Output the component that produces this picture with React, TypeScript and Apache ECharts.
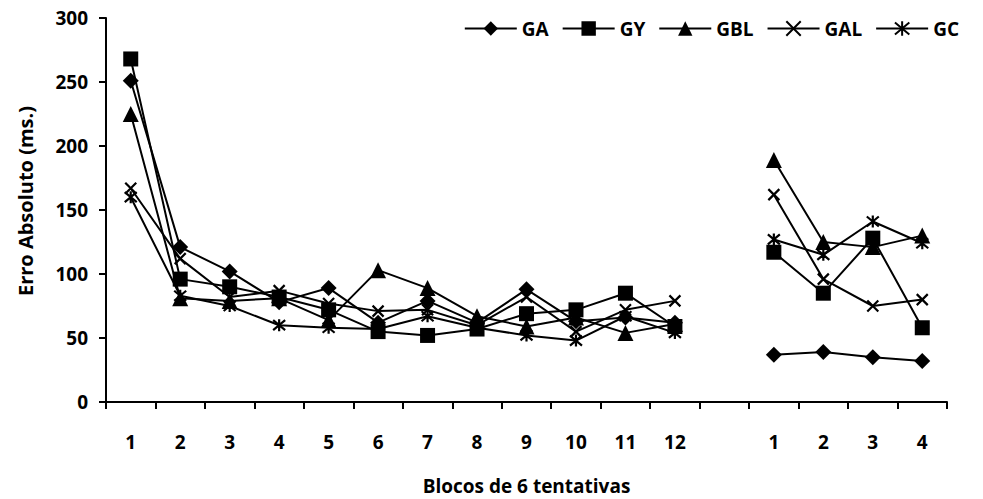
import React, { useEffect, useRef } from "react";
import * as echarts from "echarts";

const categories = ["1", "2", "3", "4", "5", "6", "7", "8", "9", "10", "11", "12", "", "1", "2", "3", "4"];
const seriesNames = ["GA", "GY", "GBL", "GAL", "GC"];
const gaValues = [251, 121, 102, 78, 89, 62, 79, 62, 88, 63, 66, 62, null, 37, 39, 35, 32];
const gyValues = [268, 96, 90, 82, 72, 55, 52, 57, 69, 72, 85, 59, null, 117, 85, 128, 58];
const gblValues = [225, 81, 79, 81, 64, 103, 89, 67, 59, 66, 54, 61, null, 189, 125, 121, 130];
const galValues = [167, 112, 82, 87, 77, 71, 72, 60, 82, 55, 72, 79, null, 162, 96, 75, 80];
const gcValues = [160, 83, 75, 60, 58, 57, 67, 58, 52, 48, 67, 54, null, 127, 115, 141, 124];
const yTicks = { min: 0, max: 300, interval: 50 };
const yTitle = "Erro Absoluto (ms.)";
const xTitle = "Blocos de 6 tentativas";

const FONT = "'Open Sans', 'Liberation Sans', sans-serif";
const CROSS = "path://M0,0L10,10M10,0L0,10";
const STAR = "path://M0,0L10,10M10,0L0,10M5,-1L5,11";

export default function App() {
  const ref = useRef<HTMLDivElement>(null);
  useEffect(() => {
    if (!ref.current) return;
    const chart = echarts.init(ref.current, null, { renderer: "svg" });
    const mk = (name: string, data: (number | null)[], symbol: string, size: number, stroke: boolean) => ({
      name,
      type: "line",
      data,
      symbol,
      symbolSize: size,
      connectNulls: false,
      lineStyle: { color: "#000", width: 2 },
      itemStyle: stroke
        ? { color: "#000", borderColor: "#000", borderWidth: 2.2 }
        : { color: "#000", borderWidth: 0 },
      emphasis: { disabled: true },
    });
    chart.setOption({
      animation: false,
      textStyle: { fontFamily: FONT },
      grid: { left: 106, right: 36, top: 18, bottom: 97, containLabel: false, outerBoundsMode: "none" },
      legend: {
        data: seriesNames,
        top: 14,
        right: 19,
        itemWidth: 52,
        itemHeight: 18,
        itemGap: 13,
        lineStyle: { width: 2, color: "#000" },
        textStyle: { fontFamily: FONT, fontWeight: "bold", fontSize: 19, color: "#000" },
      },
      graphic: [
        {
          type: "text",
          x: 25,
          y: 201,
          rotation: Math.PI / 2,
          style: {
            text: yTitle,
            fontFamily: FONT,
            fontWeight: "bold",
            fontSize: 20,
            fill: "#000",
            align: "center",
            verticalAlign: "middle",
          },
        },
      ],
      xAxis: {
        type: "category",
        data: categories,
        boundaryGap: true,
        name: xTitle,
        nameLocation: "middle",
        nameGap: 74,
        nameTextStyle: { fontFamily: FONT, fontWeight: "bold", fontSize: 19, color: "#000" },
        axisLine: { lineStyle: { color: "#000", width: 2 } },
        axisTick: { show: true, length: 7, interval: 0, lineStyle: { color: "#000", width: 2 } },
        axisLabel: { interval: 0, margin: 30, fontFamily: FONT, fontWeight: "bold", fontSize: 19, color: "#000" },
        splitLine: { show: false },
      },
      yAxis: {
        type: "value",
        min: yTicks.min,
        max: yTicks.max,
        interval: yTicks.interval,
        axisLine: { show: true, lineStyle: { color: "#000", width: 2 } },
        axisTick: { show: true, length: 7, lineStyle: { color: "#000", width: 2 } },
        axisLabel: { margin: 18, fontFamily: FONT, fontWeight: "bold", fontSize: 19, color: "#000" },
        splitLine: { show: false },
      },
      series: [
        mk("GA", gaValues, "diamond", 16, false),
        mk("GY", gyValues, "rect", 15, false),
        mk("GBL", gblValues, "triangle", 16, false),
        mk("GAL", galValues, CROSS, 11, true),
        mk("GC", gcValues, STAR, 12, true),
      ],
    });
    return () => chart.dispose();
  }, []);
  return <div ref={ref} style={{ width: 983, height: 499, position: "absolute", left: 0, top: 0 }} />;
}
